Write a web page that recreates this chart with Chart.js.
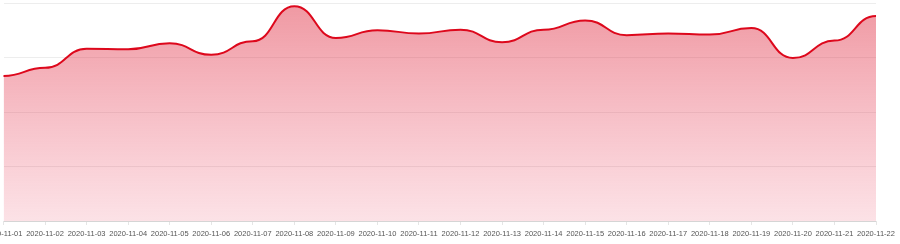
<!DOCTYPE html>
<html>
<head>
<meta charset="utf-8">
<script src="https://cdn.jsdelivr.net/npm/chart.js@4/dist/chart.umd.min.js"></script>
<style>
  html, body { margin: 0; padding: 0; background: #fff; overflow: hidden; }
  #wrap { position: absolute; left: -30px; top: 0; width: 930px; height: 244px; }
</style>
</head>
<body>
<div id="wrap"><canvas id="c"></canvas></div>
<script>
const categories = ["2020-11-01","2020-11-02","2020-11-03","2020-11-04","2020-11-05","2020-11-06","2020-11-07","2020-11-08","2020-11-09","2020-11-10","2020-11-11","2020-11-12","2020-11-13","2020-11-14","2020-11-15","2020-11-16","2020-11-17","2020-11-18","2020-11-19","2020-11-20","2020-11-21","2020-11-22"];
const values = [266, 281, 316, 315, 326, 305, 330, 394, 336, 350, 344, 351, 328, 351, 368, 341, 344, 342, 354, 299, 331, 376];
const yMin = 0, yMax = 400, yStep = 100;

// horizontal-tangent smoothing (flat at each point, S-shaped between points)
const flatSmooth = {
  id: 'flatSmooth',
  beforeDatasetsDraw(chart) {
    const k = 0.5;
    chart.getSortedVisibleDatasetMetas().forEach(meta => {
      const line = meta.dataset;
      if (line && line.updateControlPoints) line.updateControlPoints(chart.chartArea, 'x');
      const pts = meta.data;
      for (let i = 0; i < pts.length; i++) {
        const p = pts[i];
        const prev = pts[i - 1] || p;
        const next = pts[i + 1] || p;
        p.cp1x = p.x - (p.x - prev.x) * k;
        p.cp1y = p.y;
        p.cp2x = p.x + (next.x - p.x) * k;
        p.cp2y = p.y;
      }
    });
  }
};

const ctx = document.getElementById('c').getContext('2d');
new Chart(ctx, {
  type: 'line',
  data: {
    labels: categories,
    datasets: [{
      data: values,
      borderColor: 'rgb(221,8,28)',
      borderWidth: 2,
      pointRadius: 0,
      pointHoverRadius: 0,
      tension: 0.4,
      fill: 'start',
      backgroundColor: (context) => {
        const chart = context.chart;
        const area = chart.chartArea;
        if (!area) return 'rgba(225,30,50,0.3)';
        const g = chart.ctx.createLinearGradient(0, area.top, 0, area.bottom);
        g.addColorStop(0, 'rgba(222,40,60,0.48)');
        g.addColorStop(1, 'rgba(235,60,90,0.15)');
        return g;
      }
    }]
  },
  options: {
    responsive: true,
    maintainAspectRatio: false,
    animation: false,
    layout: { padding: { left: 33.5, right: 24, top: 3, bottom: 2 } },
    plugins: { legend: { display: false }, tooltip: { enabled: false } },
    scales: {
      x: {
        grid: { display: true, drawOnChartArea: false, drawTicks: true, tickLength: 4, color: 'rgba(0,0,0,0.1)' },
        border: { display: true, color: 'rgba(0,0,0,0.1)' },
        ticks: { autoSkip: false, maxRotation: 0, minRotation: 0, padding: 4, color: '#555', font: { family: 'Liberation Sans, Arial, sans-serif', size: 7.5 } }
      },
      y: {
        min: yMin, max: yMax,
        ticks: { display: false, stepSize: yStep },
        grid: { color: 'rgba(0,0,0,0.07)', drawTicks: false },
        border: { display: false }
      }
    }
  },
  plugins: [flatSmooth]
});
</script>
</body>
</html>
